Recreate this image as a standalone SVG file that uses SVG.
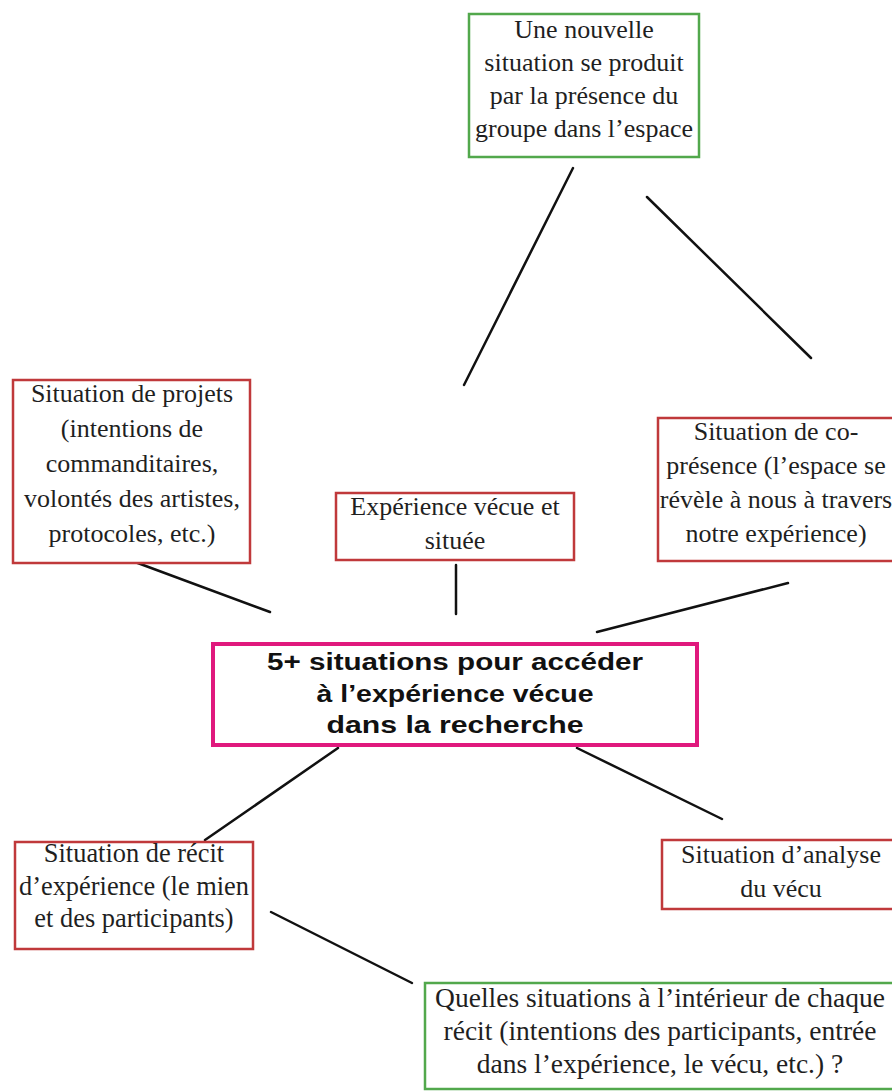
<svg xmlns="http://www.w3.org/2000/svg" width="892" height="1091" viewBox="0 0 892 1091">
<style>
.bg{fill:#ffffff}
.red{fill:#ffffff;stroke:#c0393b;stroke-width:2.5}
.green{fill:#ffffff;stroke:#52a84c;stroke-width:2.5}
.mag{fill:#ffffff;stroke:#e0197d;stroke-width:4}
.t{font-family:"Liberation Serif","Times New Roman",serif;font-size:26px;fill:#1f1f1f;text-anchor:middle}
.t27{font-size:26.4px}
.t28{font-size:27.5px}
.b{font-family:"Liberation Sans",Arial,sans-serif;font-weight:bold;font-size:23.5px;fill:#111111;text-anchor:middle}
.ln{stroke:#111111;stroke-width:2.5;stroke-linecap:round;fill:none}
</style>
<rect class="bg" x="0" y="0" width="892" height="1091"/>
<g id="connectors">
<line class="ln" x1="573" y1="168" x2="464" y2="385"/>
<line class="ln" x1="647" y1="197" x2="811" y2="358"/>
<line class="ln" x1="135" y1="562" x2="270" y2="612"/>
<line class="ln" x1="456" y1="565" x2="456" y2="614"/>
<line class="ln" x1="788" y1="583" x2="597" y2="632"/>
<line class="ln" x1="338" y1="748" x2="205" y2="840"/>
<line class="ln" x1="577" y1="748" x2="722" y2="819"/>
<line class="ln" x1="271" y1="912" x2="412" y2="983"/>
</g>
<g id="node-top">
<rect class="green" x="469" y="14" width="230" height="143"/>
<text class="t" x="584" y="38">Une nouvelle</text>
<text class="t" x="584" y="71">situation se produit</text>
<text class="t" x="584" y="104">par la présence du</text>
<text class="t" x="584" y="137">groupe dans l’espace</text>
</g>
<g id="node-projets">
<rect class="red" x="13" y="380" width="237" height="183"/>
<text class="t" x="132" y="402">Situation de projets</text>
<text class="t" x="132" y="437">(intentions de</text>
<text class="t" x="132" y="472">commanditaires,</text>
<text class="t" x="132" y="507">volontés des artistes,</text>
<text class="t" x="132" y="542">protocoles, etc.)</text>
</g>
<g id="node-experience">
<rect class="red" x="336" y="493" width="238" height="67"/>
<text class="t" x="455" y="515">Expérience vécue et</text>
<text class="t" x="455" y="549">située</text>
</g>
<g id="node-copresence">
<rect class="red" x="658" y="418" width="245" height="143"/>
<text class="t" x="776" y="440">Situation de co-</text>
<text class="t" x="776" y="474">présence (l’espace se</text>
<text class="t" x="776" y="508">révèle à nous à travers</text>
<text class="t" x="776" y="542">notre expérience)</text>
</g>
<g id="node-center">
<rect class="mag" x="213" y="644" width="484" height="101"/>
<text class="b" x="455" y="670" textLength="376" lengthAdjust="spacingAndGlyphs">5+ situations pour accéder</text>
<text class="b" x="455" y="702" textLength="277" lengthAdjust="spacingAndGlyphs">à l’expérience vécue</text>
<text class="b" x="455" y="733" textLength="257" lengthAdjust="spacingAndGlyphs">dans la recherche</text>
</g>
<g id="node-recit">
<rect class="red" x="15" y="842" width="238" height="107"/>
<text class="t t27" x="134" y="862">Situation de récit</text>
<text class="t t27" x="134" y="895">d’expérience (le mien</text>
<text class="t t27" x="134" y="927">et des participants)</text>
</g>
<g id="node-analyse">
<rect class="red" x="662" y="840" width="245" height="69"/>
<text class="t" x="781" y="863">Situation d’analyse</text>
<text class="t" x="781" y="897">du vécu</text>
</g>
<g id="node-quelles">
<rect class="green" x="425" y="983" width="480" height="106"/>
<text class="t t28" x="660" y="1007">Quelles situations à l’intérieur de chaque</text>
<text class="t t28" x="660" y="1040">récit (intentions des participants, entrée</text>
<text class="t t28" x="660" y="1073">dans l’expérience, le vécu, etc.) ?</text>
</g>
</svg>
